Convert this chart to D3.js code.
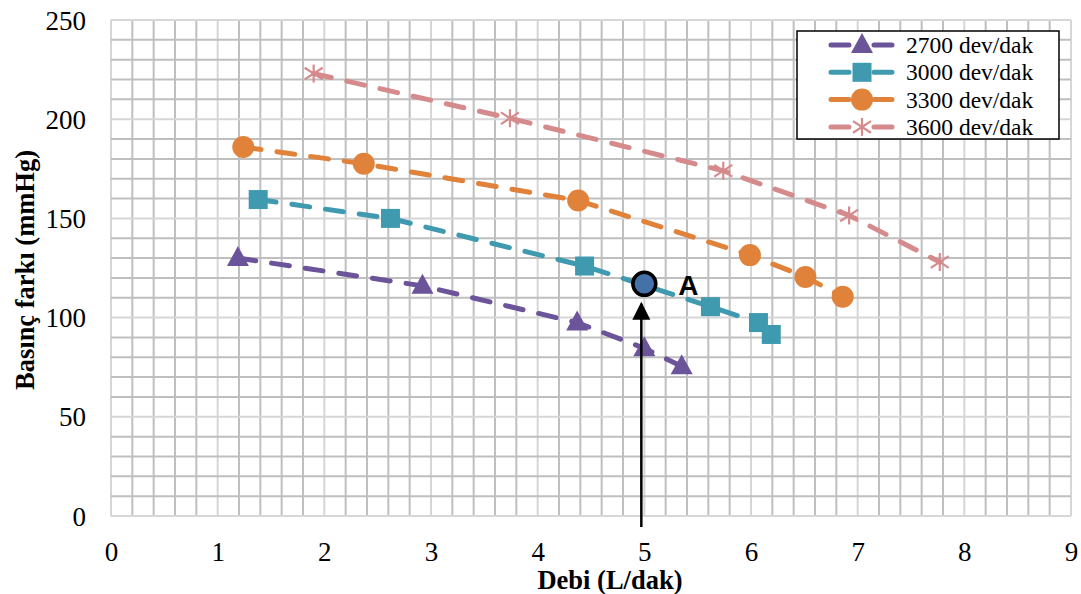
<!DOCTYPE html>
<html><head><meta charset="utf-8">
<script src="https://cdn.jsdelivr.net/npm/d3@7"></script>
<style>body{margin:0;background:#fff}svg{display:block}</style>
</head><body>
<script>
const xTicks = [0,1,2,3,4,5,6,7,8,9];
const yTicks = [0,50,100,150,200,250];
const seriesNames = ["2700 dev/dak","3000 dev/dak","3300 dev/dak","3600 dev/dak"];
const s2700 = [[1.19,130],[2.92,116],[4.37,97.5],[5.0,84.5],[5.35,75.5]];
const s3000 = [[1.38,159.5],[2.62,150],[4.44,126],[5.62,105.5],[6.07,97.5],[6.19,91.5]];
const s3300 = [[1.24,186],[2.37,177.5],[4.38,159],[5.99,131.5],[6.51,120.5],[6.86,110.5]];
const s3600 = [[1.9,223],[3.74,200.5],[5.74,174],[6.92,151.5],[7.77,128]];
const pointA = [5.0,117];
const arrowTop = 108;
const colors = ["#6B549A","#3F9AB0","#E0823A","#D58A8C"];
const markers = ["triangle","square","circle","asterisk"];

const W=1081,H=594;
const svg=d3.select("body").append("svg").attr("width",W).attr("height",H);
const x=d3.scaleLinear().domain([0,9]).range([111,1071]);
const y=d3.scaleLinear().domain([0,250]).range([516,20]);

// grid
const g=svg.append("g");
d3.range(0,9.0001,0.2).forEach(v=>{
  g.append("line").attr("x1",x(v)).attr("x2",x(v)).attr("y1",y(0)).attr("y2",y(250))
   .attr("stroke",(Math.round(v*5)%5===0)?"#d6d6d6":"#bfbfbf").attr("stroke-width",2);
});
d3.range(0,250.001,10).forEach(v=>{
  g.append("line").attr("x1",x(0)).attr("x2",x(9)).attr("y1",y(v)).attr("y2",y(v))
   .attr("stroke",(Math.round(v)%50===0)?"#d6d6d6":"#bfbfbf").attr("stroke-width",2);
});

// axes labels
const xAxis=d3.axisBottom(x).tickValues(xTicks).tickSize(0).tickPadding(0).tickFormat(d3.format("d"));
svg.append("g").attr("transform","translate(0,542)").call(xAxis)
  .call(a=>a.select(".domain").remove())
  .selectAll("text").attr("font-family","Liberation Serif").attr("font-size",27).attr("fill","#000").attr("dy","0.71em");
const yAxis=d3.axisLeft(y).tickValues(yTicks).tickSize(0).tickPadding(0).tickFormat(d3.format("d"));
svg.append("g").attr("transform","translate(86,0)").call(yAxis)
  .call(a=>a.select(".domain").remove())
  .selectAll("text").attr("font-family","Liberation Serif").attr("font-size",27).attr("fill","#000").attr("dy","0.34em");

svg.append("text").attr("x",610).attr("y",589).attr("text-anchor","middle")
  .attr("font-family","Liberation Serif").attr("font-weight","bold").attr("font-size",26.5).text("Debi (L/dak)");
svg.append("text").attr("transform","translate(34,270) rotate(-90)").attr("text-anchor","middle")
  .attr("font-family","Liberation Serif").attr("font-weight","bold").attr("font-size",26.5).text("Basınç farkı (mmHg)");

function drawMarker(sel,type,color,cx,cy){
  if(type==="triangle"){
    sel.append("path").attr("d",`M${cx},${cy-12}L${cx+11},${cy+8}L${cx-11},${cy+8}Z`).attr("fill",color);
  } else if(type==="square"){
    sel.append("rect").attr("x",cx-9.5).attr("y",cy-9.5).attr("width",19).attr("height",19).attr("fill",color);
  } else if(type==="circle"){
    sel.append("circle").attr("cx",cx).attr("cy",cy).attr("r",11).attr("fill",color);
  } else {
    const r=9;
    [[0,-r,0,r],[-r,-r*0.65,r,r*0.65],[-r,r*0.65,r,-r*0.65]].forEach(s=>{
      sel.append("line").attr("x1",cx+s[0]).attr("y1",cy+s[1]).attr("x2",cx+s[2]).attr("y2",cy+s[3])
        .attr("stroke",color).attr("stroke-width",2.2);
    });
  }
}

const allSeries=[s2700,s3000,s3300,s3600];
const line=d3.line().x(d=>x(d[0])).y(d=>y(d[1]));
allSeries.forEach((s,i)=>{
  svg.append("path").attr("d",line(s)).attr("fill","none").attr("stroke",colors[i])
    .attr("stroke-width",5).attr("stroke-dasharray","18,16").attr("stroke-linecap","round");
  const mg=svg.append("g");
  s.forEach(d=>drawMarker(mg,markers[i],colors[i],x(d[0]),y(d[1])));
});

// arrow
svg.append("line").attr("x1",x(pointA[0])-3).attr("x2",x(pointA[0])-3).attr("y1",527).attr("y2",y(arrowTop)+2)
  .attr("stroke","#000").attr("stroke-width",2.5);
svg.append("path").attr("d",`M${x(pointA[0])-3},${y(arrowTop)}l-9,18l18,0Z`).attr("fill","#000");

svg.append("circle").attr("cx",x(pointA[0])).attr("cy",y(pointA[1])).attr("r",11.5)
  .attr("fill","#4472A8").attr("stroke","#000").attr("stroke-width",3.5);
svg.append("text").attr("x",x(pointA[0])+34).attr("y",y(pointA[1])+11)
  .attr("font-family","Liberation Sans").attr("font-weight","bold").attr("font-size",28).text("A");

// legend
const lg=svg.append("g");
lg.append("rect").attr("x",797).attr("y",31).attr("width",262).attr("height",108)
  .attr("fill","#fff").attr("stroke","#000").attr("stroke-width",1.5);
seriesNames.forEach((n,i)=>{
  const yy=45+i*27.3;
  lg.append("line").attr("x1",831).attr("x2",892).attr("y1",yy).attr("y2",yy)
    .attr("stroke",colors[i]).attr("stroke-width",5).attr("stroke-dasharray","18,25").attr("stroke-linecap","round");
  drawMarker(lg,markers[i],colors[i],862,yy);
  lg.append("text").attr("x",906).attr("y",yy+8).attr("font-family","Liberation Serif").attr("font-size",23.5).text(n);
});
</script>
</body></html>
